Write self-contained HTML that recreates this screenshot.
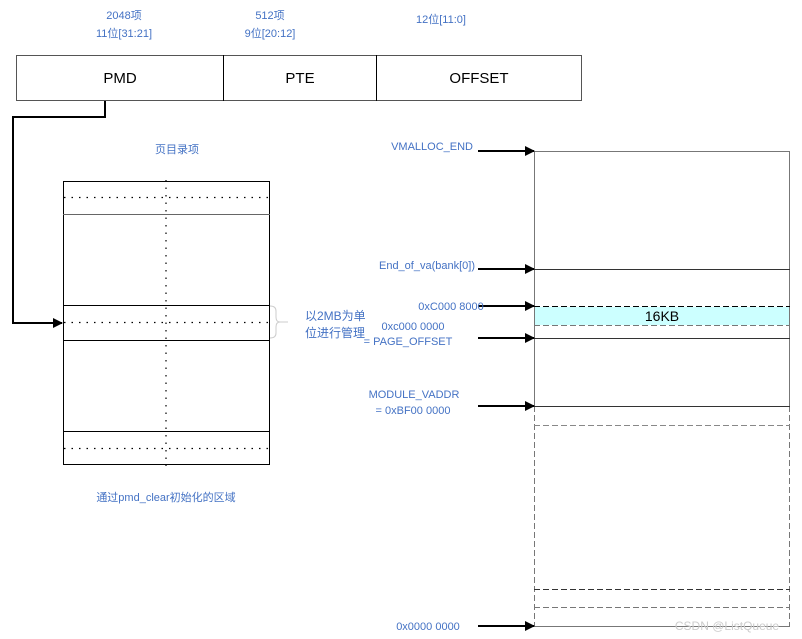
<!DOCTYPE html>
<html><head><meta charset="utf-8"><style>
html,body{margin:0;padding:0;background:#fff;}
svg{display:block}
text{font-family:"Liberation Sans","Noto Sans CJK SC",sans-serif;}
.b{fill:#4472c4;font-size:11px}
.k{fill:#000;font-size:15px}
</style></head><body>
<svg width="802" height="639" viewBox="0 0 802 639" xmlns="http://www.w3.org/2000/svg">
<defs><marker id="a" markerWidth="10" markerHeight="10" refX="9" refY="5" orient="auto" markerUnits="userSpaceOnUse"><path d="M0,0 L10,5 L0,10 z" fill="#000"/></marker></defs>
<!-- top labels -->
<text class="b" x="124" y="19" text-anchor="middle">2048项</text>
<text class="b" x="124" y="37" text-anchor="middle">11位[31:21]</text>
<text class="b" x="270" y="19" text-anchor="middle">512项</text>
<text class="b" x="270" y="37" text-anchor="middle">9位[20:12]</text>
<text class="b" x="441" y="23" text-anchor="middle">12位[11:0]</text>
<!-- top bar -->
<rect x="16.5" y="55.5" width="565" height="45" fill="#fff" stroke="#555" stroke-width="1"/>
<line x1="223.5" y1="55" x2="223.5" y2="101" stroke="#000"/>
<line x1="376.5" y1="55" x2="376.5" y2="101" stroke="#000"/>
<text class="k" x="120" y="83" text-anchor="middle">PMD</text>
<text class="k" x="300" y="83" text-anchor="middle">PTE</text>
<text class="k" x="479" y="83" text-anchor="middle">OFFSET</text>
<!-- connector -->
<polyline points="105,101 105,117 13,117 13,323 62,323" fill="none" stroke="#000" stroke-width="2" marker-end="url(#a)"/>
<text class="b" x="177" y="153" text-anchor="middle">页目录项</text>
<!-- left table -->
<g stroke="#000" fill="none">
<rect x="63.5" y="181.5" width="206" height="283"/>
<line x1="63" y1="214.5" x2="270" y2="214.5" stroke="#666"/>
<line x1="63" y1="305.5" x2="270" y2="305.5"/>
<line x1="63" y1="340.5" x2="270" y2="340.5"/>
<line x1="63" y1="431.5" x2="270" y2="431.5"/>
<g stroke-dasharray="1.5,6" stroke-width="1.2">
<line x1="64" y1="197.5" x2="269" y2="197.5"/>
<line x1="64" y1="322.5" x2="269" y2="322.5"/>
<line x1="64" y1="448.5" x2="269" y2="448.5"/>
<line x1="166" y1="180" x2="166" y2="466"/>
</g>
</g>
<path d="M270,306 q6,0 6,5 v6 q0,5 4,5 h8 M280,322 q-4,0 -4,5 v6 q0,5 -6,5" fill="none" stroke="#ccc"/>
<text class="b" x="305" y="320" style="font-size:12px">以2MB为单</text>
<text class="b" x="305" y="337" style="font-size:12px">位进行管理</text>
<text class="b" x="166" y="501" text-anchor="middle">通过pmd_clear初始化的区域</text>
<!-- right box -->
<rect x="534.5" y="307" width="255" height="18" fill="#ccffff"/>
<g stroke="#777" fill="none">
<line x1="534.5" y1="151" x2="534.5" y2="406"/>
<line x1="789.5" y1="151" x2="789.5" y2="406"/>
<line x1="534.5" y1="406" x2="534.5" y2="626" stroke-dasharray="6,3"/>
<line x1="789.5" y1="406" x2="789.5" y2="626" stroke-dasharray="6,3"/>
<line x1="534" y1="151.5" x2="790" y2="151.5"/>
</g>
<g stroke="#000">
<line x1="534" y1="269.5" x2="790" y2="269.5" stroke="#333"/>
<line x1="534" y1="338.5" x2="790" y2="338.5" stroke="#333"/>
<line x1="534" y1="406.5" x2="790" y2="406.5" stroke="#333"/>
<line x1="534" y1="626.5" x2="790" y2="626.5" stroke="#777"/>
<g stroke-dasharray="6,3">
<line x1="534" y1="306.5" x2="790" y2="306.5"/>
<line x1="534" y1="325.5" x2="790" y2="325.5" stroke="#777"/>
<line x1="534" y1="425.5" x2="790" y2="425.5" stroke="#888"/>
<line x1="534" y1="589.5" x2="790" y2="589.5" stroke="#333"/>
<line x1="534" y1="607.5" x2="790" y2="607.5" stroke="#777"/>
</g>
</g>
<text x="662" y="321" text-anchor="middle" style="font-size:14px" fill="#000">16KB</text>
<!-- arrows -->
<g stroke="#000" stroke-width="2" marker-end="url(#a)">
<line x1="478" y1="151" x2="534" y2="151"/>
<line x1="478" y1="269" x2="534" y2="269"/>
<line x1="478" y1="306" x2="534" y2="306"/>
<line x1="478" y1="338" x2="534" y2="338"/>
<line x1="478" y1="406" x2="534" y2="406"/>
<line x1="478" y1="626" x2="534" y2="626"/>
</g>
<text class="b" x="473" y="150" text-anchor="end">VMALLOC_END</text>
<text class="b" x="475" y="269" text-anchor="end">End_of_va(bank[0])</text>
<text class="b" x="451" y="310" text-anchor="middle">0xC000 8000</text>
<text class="b" x="413" y="330" text-anchor="middle">0xc000 0000</text>
<text class="b" x="408" y="345" text-anchor="middle">= PAGE_OFFSET</text>
<text class="b" x="414" y="398" text-anchor="middle">MODULE_VADDR</text>
<text class="b" x="413" y="414" text-anchor="middle">= 0xBF00 0000</text>
<text class="b" x="428" y="630" text-anchor="middle">0x0000 0000</text>
<text x="727" y="630" text-anchor="middle" style="font-size:12px" fill="#ccc">CSDN @ListQueue</text>
</svg>
</body></html>
